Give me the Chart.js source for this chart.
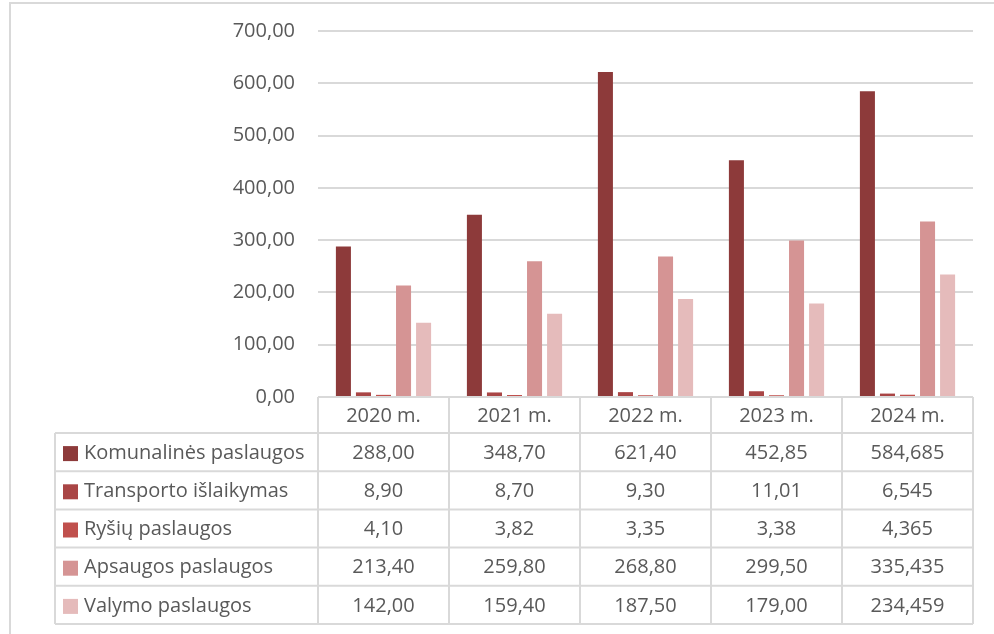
<!DOCTYPE html>
<html lang="lt">
<head>
    <meta charset="UTF-8">
    <title>Paslaugų išlaidos</title>
    <script src="https://cdn.jsdelivr.net/npm/chart.js@4"></script>
    <style>
        html, body { margin: 0; padding: 0; background: #fff; }
        #wrap { width: 994px; height: 634px; position: relative; }
    </style>
</head>
<body>
<div id="wrap"><canvas id="chart" width="994" height="634"></canvas></div>
<script>
    // data
    const years = ['2020 m.', '2021 m.', '2022 m.', '2023 m.', '2024 m.'];
    const decimals = [2, 2, 2, 2, 3];   // how many decimals the table shows per year
    const komunalines = [288.00, 348.70, 621.40, 452.85, 584.685];
    const transportas = [8.90, 8.70, 9.30, 11.01, 6.545];
    const rysiai = [4.10, 3.82, 3.35, 3.38, 4.365];
    const apsauga = [213.40, 259.80, 268.80, 299.50, 335.435];
    const valymas = [142.00, 159.40, 187.50, 179.00, 234.459];
    const yTicks = [0, 100, 200, 300, 400, 500, 600, 700];

    const series = [
        { label: 'Komunalinės paslaugos', data: komunalines, color: '#8d3a3a' },
        { label: 'Transporto išlaikymas', data: transportas, color: '#a94545' },
        { label: 'Ryšių paslaugos', data: rysiai, color: '#c0504d' },
        { label: 'Apsaugos paslaugos', data: apsauga, color: '#d59494' },
        { label: 'Valymo paslaugos', data: valymas, color: '#e5bbbb' }
    ];

    const FONT = '"Open Sans", sans-serif';
    const TEXT = '#595959';
    const LINE = '#d9d9d9';

    const fmt = (v, d) => v.toFixed(d).replace('.', ',');

    // draws the frame and the data table under the bars
    const dataTable = {
        id: 'dataTable',
        afterDraw(chart) {
            const ctx = chart.ctx;
            const area = chart.chartArea;
            const n = years.length;
            const colW = (area.right - area.left) / n;
            const headH = 36, rowH = 38.2;
            const top = area.bottom;
            const labelLeft = 55;
            const bottom = top + headH + rowH * series.length;

            ctx.save();
            ctx.strokeStyle = LINE;
            ctx.lineWidth = 2;

            // outer frame of the chart object
            ctx.strokeRect(10, 3, 1000, 700);

            ctx.beginPath();
            ctx.moveTo(area.left, top); ctx.lineTo(area.right, top);
            for (let r = 0; r <= series.length; r++) {
                const y = top + headH + r * rowH;
                ctx.moveTo(labelLeft, y); ctx.lineTo(area.right, y);
            }
            ctx.moveTo(labelLeft, top + headH); ctx.lineTo(labelLeft, bottom);
            for (let c = 0; c <= n; c++) {
                const x = area.left + c * colW;
                ctx.moveTo(x, top); ctx.lineTo(x, bottom);
            }
            ctx.stroke();

            ctx.fillStyle = TEXT;
            ctx.font = '20px ' + FONT;
            ctx.textAlign = 'center';
            ctx.textBaseline = 'middle';
            years.forEach((y, i) => {
                ctx.fillText(y, chart.scales.x.getPixelForValue(i), top + headH / 2 + 1);
            });

            series.forEach((s, r) => {
                const cy = top + headH + r * rowH + rowH / 2 + 1;
                ctx.fillStyle = s.color;
                ctx.fillRect(63, cy - 7, 15, 15);
                ctx.fillStyle = TEXT;
                ctx.textAlign = 'left';
                ctx.fillText(s.label, 84, cy);
                ctx.textAlign = 'center';
                s.data.forEach((v, i) => {
                    ctx.fillText(fmt(v, decimals[i]), chart.scales.x.getPixelForValue(i), cy);
                });
            });
            ctx.restore();
        }
    };

    new Chart(document.getElementById('chart'), {
        type: 'bar',
        data: {
            labels: years,
            datasets: series.map(s => ({
                label: s.label,
                data: s.data,
                backgroundColor: s.color,
                borderWidth: 0,
                categoryPercentage: 0.765,
                barPercentage: 0.75
            }))
        },
        options: {
            responsive: false,
            animation: false,
            layout: { padding: { left: 10, right: 21, top: 31, bottom: 237 } },
            plugins: {
                legend: { display: false },
                tooltip: { enabled: false }
            },
            scales: {
                x: { display: false },
                y: {
                    min: 0,
                    max: 700,
                    afterBuildTicks: s => { s.ticks = yTicks.map(v => ({ value: v })); },
                    afterFit: s => { s.width = 308; s.paddingTop = 0; s.paddingBottom = 0; },
                    border: { display: false },
                    grid: { color: LINE, lineWidth: 2, drawTicks: false },
                    ticks: {
                        padding: 23,
                        color: TEXT,
                        font: { family: FONT, size: 20 },
                        callback: v => fmt(v, 2)
                    }
                }
            }
        },
        plugins: [dataTable]
    });
</script>
</body>
</html>
